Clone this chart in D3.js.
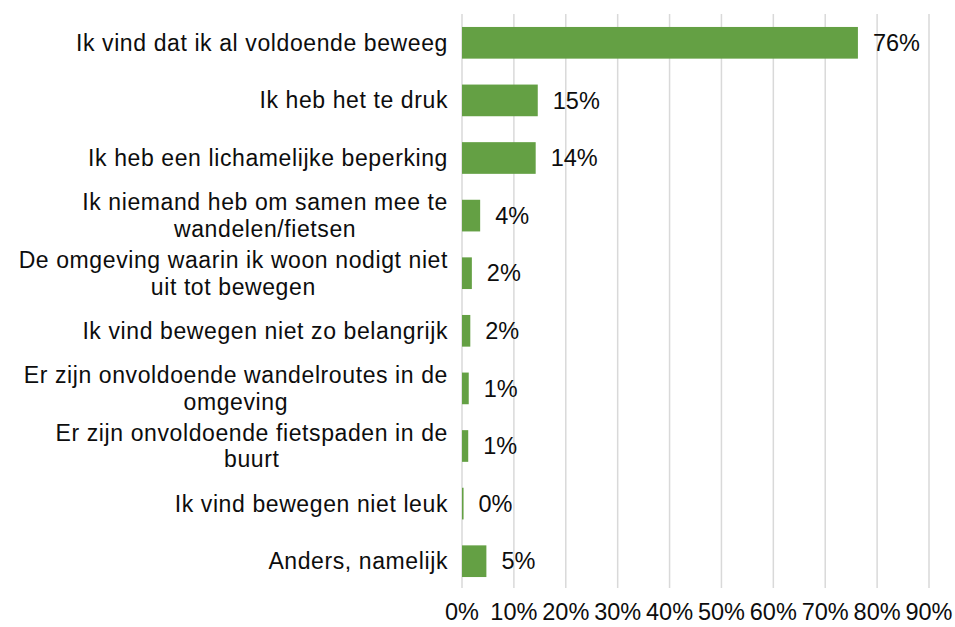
<!DOCTYPE html>
<html lang="nl">
<head>
<meta charset="UTF-8">
<title>Redenen</title>
<script src="https://cdn.jsdelivr.net/npm/d3@7"></script>
<style>
    body { margin: 0; background: #fff; }
    svg text { font-family: "Liberation Sans", Arial, sans-serif; fill: #0d0d0d; }
</style>
</head>
<body>
<svg width="955" height="627"></svg>
<script>
    // categories (line breaks as in the original wrapped labels)
    var categories = [
        "Ik vind dat ik al voldoende beweeg",
        "Ik heb het te druk",
        "Ik heb een lichamelijke beperking",
        "Ik niemand heb om samen mee te\nwandelen/fietsen",
        "De omgeving waarin ik woon nodigt niet\nuit tot bewegen",
        "Ik vind bewegen niet zo belangrijk",
        "Er zijn onvoldoende wandelroutes in de\nomgeving",
        "Er zijn onvoldoende fietspaden in de\nbuurt",
        "Ik vind bewegen niet leuk",
        "Anders, namelijk"
    ];
    var values = [76.3, 14.6, 14.2, 3.5, 1.9, 1.6, 1.3, 1.2, 0.3, 4.7];
    var valueLabels = ["76%", "15%", "14%", "4%", "2%", "2%", "1%", "1%", "0%", "5%"];
    var ticks = [0, 10, 20, 30, 40, 50, 60, 70, 80, 90];

    var fontSize = 23;
    var svg = d3.select("svg");

    var x = d3.scaleLinear().domain([0, 90]).range([462, 929]);
    var y = d3.scaleBand().domain(categories).range([14, 590]).paddingInner(0.45).paddingOuter(0.225);

    // gridlines
    svg.append("g")
        .selectAll("line")
        .data(ticks)
        .enter()
        .append("line")
        .attr("x1", function (d) { return x(d); })
        .attr("x2", function (d) { return x(d); })
        .attr("y1", 14)
        .attr("y2", 588)
        .attr("stroke", "#d9d9d9")
        .attr("stroke-width", 1.5);

    // x tick labels
    svg.append("g")
        .selectAll("text")
        .data(ticks)
        .enter()
        .append("text")
        .attr("x", function (d) { return x(d); })
        .attr("y", 620)
        .attr("text-anchor", "middle")
        .style("font-size", "23.5px")
        .text(function (d) { return d + "%"; });

    // bars
    svg.append("g")
        .selectAll("rect")
        .data(values)
        .enter()
        .append("rect")
        .attr("x", x(0))
        .attr("y", function (d, i) { return y(categories[i]); })
        .attr("width", function (d) { return x(d) - x(0); })
        .attr("height", y.bandwidth())
        .attr("fill", "#64a044");

    // value labels
    svg.append("g")
        .selectAll("text")
        .data(values)
        .enter()
        .append("text")
        .attr("x", function (d) { return x(d) + 15; })
        .attr("y", function (d, i) { return y(categories[i]) + y.bandwidth() / 2; })
        .attr("dy", "0.35em")
        .style("font-size", "23.5px")
        .text(function (d, i) { return valueLabels[i]; });

    // category labels: block right-aligned, lines centred within the block
    var labelRight = 448;
    var lineHeight = 26.5;
    var lab = svg.append("g");
    categories.forEach(function (c) {
        var lines = c.split("\n");
        var cy = y(c) + y.bandwidth() / 2;
        var t = lab.append("text")
            .attr("text-anchor", "middle")
            .style("font-size", fontSize + "px")
            .style("letter-spacing", "0.6px");
        var tsp = lines.map(function (l, k) {
            return t.append("tspan")
                .attr("y", cy + (k - (lines.length - 1) / 2) * lineHeight)
                .attr("dy", "0.35em")
                .text(l);
        });
        var w = d3.max(tsp, function (s) { return s.node().getComputedTextLength(); });
        tsp.forEach(function (s) { s.attr("x", labelRight - w / 2); });
    });
</script>
</body>
</html>
